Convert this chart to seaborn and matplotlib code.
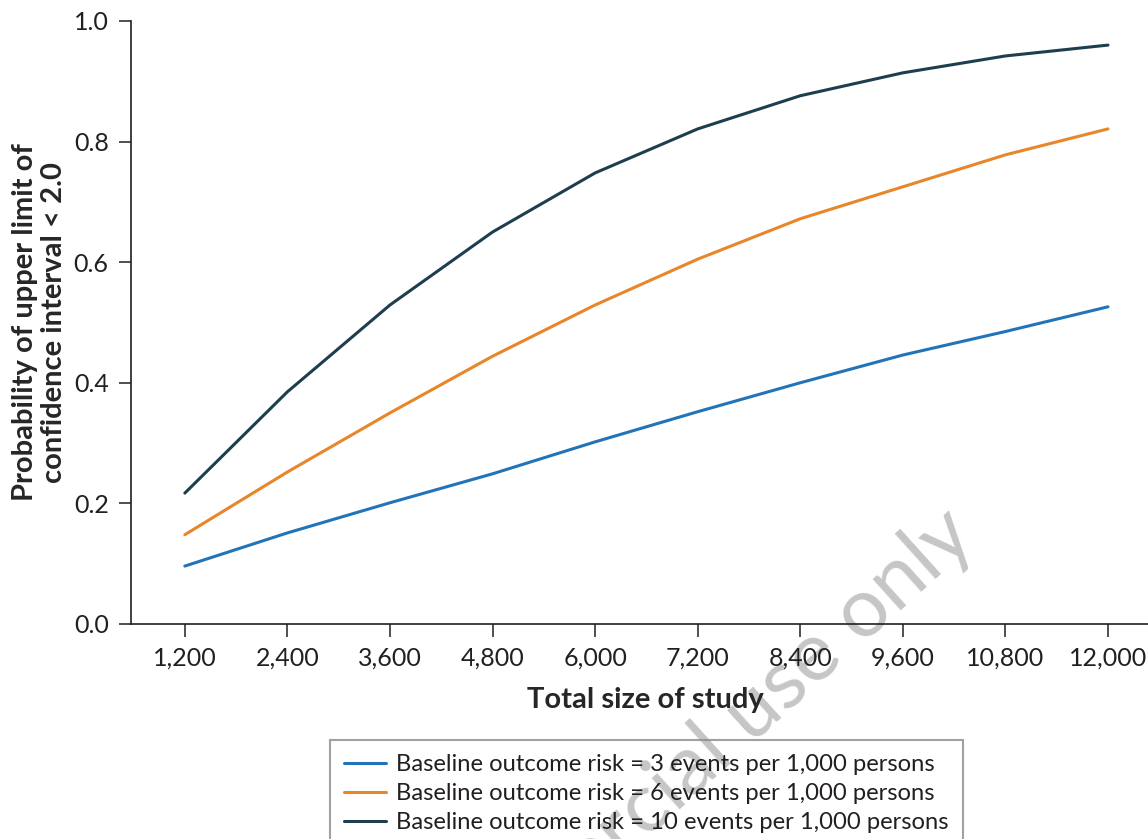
import pandas as pd
import matplotlib.pyplot as plt
import seaborn as sns

# values
sizes = ["1,200", "2,400", "3,600", "4,800", "6,000", "7,200", "8,400", "9,600", "10,800", "12,000"]
risk3 = [0.096, 0.151, 0.201, 0.249, 0.302, 0.352, 0.400, 0.446, 0.485, 0.526]
risk6 = [0.148, 0.252, 0.350, 0.444, 0.529, 0.605, 0.672, 0.725, 0.778, 0.821]
risk10 = [0.217, 0.385, 0.529, 0.650, 0.748, 0.821, 0.876, 0.914, 0.942, 0.960]
labels = ["Baseline outcome risk = 3 events per 1,000 persons",
          "Baseline outcome risk = 6 events per 1,000 persons",
          "Baseline outcome risk = 10 events per 1,000 persons"]
colors = ["#2274b9", "#e8862a", "#1e3e4f"]

df = pd.concat([pd.DataFrame({"size": sizes, "prob": v, "risk": lab})
                for v, lab in zip([risk3, risk6, risk10], labels)], ignore_index=True)

sns.set_style("white")
plt.rcParams["font.family"] = ["Lato", "DejaVu Sans"]
plt.rcParams["text.color"] = "#231f20"

fig = plt.figure(figsize=(11.48, 8.39), dpi=100)
ax = fig.add_axes([0.114, 0.2563, 0.886, 0.7187])
ax.patch.set_alpha(0)

sns.lineplot(data=df, x="size", y="prob", hue="risk", palette=dict(zip(labels, colors)),
             linewidth=2.2, sort=False, ax=ax)

ax.set_xlim(-0.526, 9.39)
ax.set_ylim(0, 1.0)
ax.set_yticks([0, 0.2, 0.4, 0.6, 0.8, 1.0])
ax.set_yticklabels(["0.0", "0.2", "0.4", "0.6", "0.8", "1.0"])
for side in ["top", "right"]:
    ax.spines[side].set_visible(False)
for side in ["left", "bottom"]:
    ax.spines[side].set_color("#231f20")
    ax.spines[side].set_linewidth(1.2)
ax.tick_params(axis="both", direction="out", length=9, width=1.1, color="#231f20",
               labelsize=18, labelcolor="#231f20", pad=7, left=True, bottom=True)

ax.set_xlabel("Total size of study", fontsize=21, fontweight="bold")
ax.xaxis.set_label_coords(0.506, -0.105)
ax.set_ylabel("Probability of upper limit of\nconfidence interval < 2.0", fontsize=21,
              fontweight="bold", linespacing=1.15)
ax.yaxis.set_label_coords(-0.063, 0.5)

handles, labs = ax.get_legend_handles_labels()
leg = ax.legend(handles, labs, loc="upper left", bbox_to_anchor=(0.2875, 0.118),
                bbox_transform=fig.transFigure, fontsize=17.1, frameon=True, fancybox=False,
                edgecolor="#8a8a8a", facecolor="none", framealpha=None, handlelength=1.75,
                borderpad=0.6, labelspacing=0.33, handletextpad=0.42, borderaxespad=0)
leg.get_frame().set_linewidth(1.5)

# watermark, behind the plot
fig.text(0.852, 0.356, "non-commercial use only", fontsize=60, color="#c6c6c6",
         rotation=42, ha="right", va="baseline", rotation_mode="anchor", zorder=-1)

plt.savefig("out.png", dpi=100)
